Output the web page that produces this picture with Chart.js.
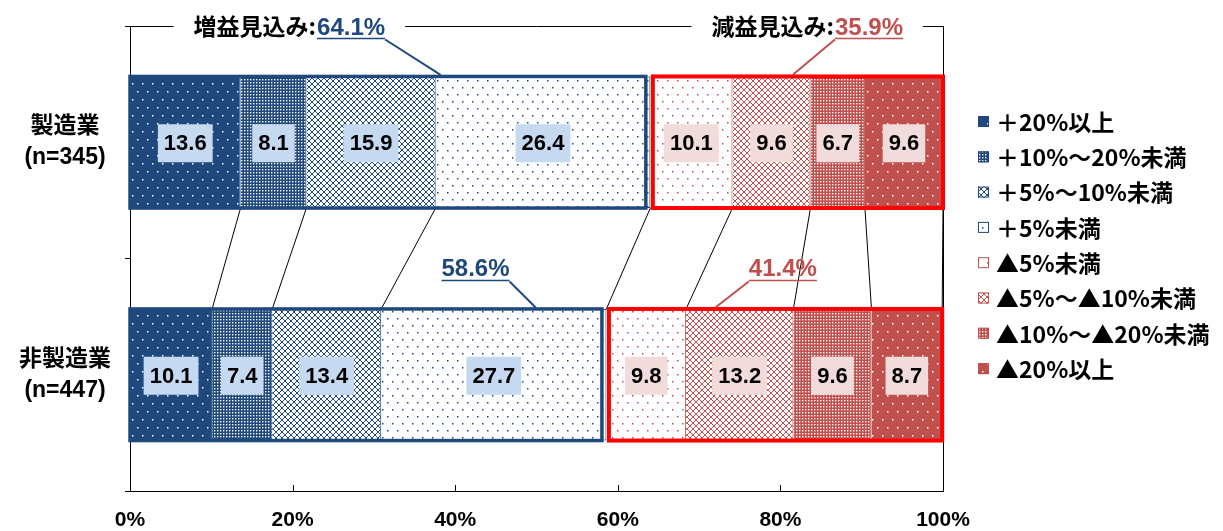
<!DOCTYPE html>
<html lang="ja">
<head>
<meta charset="utf-8">
<title>増益・減益見込み</title>
<script src="https://cdn.jsdelivr.net/npm/chart.js@4.4.1/dist/chart.umd.min.js"></script>
<style>
  html, body { margin: 0; padding: 0; background: #fff; }
  #wrap { width: 1223px; height: 531px; }
</style>
</head>
<body>
<div id="wrap"><canvas id="c" width="1223" height="531"></canvas></div>
<script>
// ── data ──────────────────────────────────────────────
const categories   = [['製造業', '(n=345)'], ['非製造業', '(n=447)']];
const seriesLabels = ['＋20%以上', '＋10%～20%未満', '＋5%～10%未満', '＋5%未満',
                      '▲5%未満', '▲5%～▲10%未満', '▲10%～▲20%未満', '▲20%以上'];
const plus20  = [13.6, 10.1];
const plus10  = [8.1, 7.4];
const plus5   = [15.9, 13.4];
const plus0   = [26.4, 27.7];
const minus0  = [10.1, 9.8];
const minus5  = [9.6, 13.2];
const minus10 = [6.7, 9.6];
const minus20 = [9.6, 8.7];
const increaseTotals = [64.1, 58.6];
const decreaseTotals = [35.9, 41.4];
const xTicks = [0, 20, 40, 60, 80, 100];

// ── styles ────────────────────────────────────────────
const BLUE = '#1F497D', RED = '#C0504D', FRAME_RED = '#FF0000';
const FONT = '"Liberation Sans", "Noto Sans CJK JP", sans-serif';
const JFONT = '"Noto Sans CJK JP", sans-serif';
const canvas = document.getElementById('c');
const ctx0 = canvas.getContext('2d');

function tile(w, h, paint) {
  const t = document.createElement('canvas');
  t.width = w; t.height = h;
  paint(t.getContext('2d'), w, h);
  return ctx0.createPattern(t, 'repeat');
}
const dotsOnColor = col => tile(10, 16, (g, w, h) => {
  g.fillStyle = col; g.fillRect(0, 0, w, h);
  g.fillStyle = '#fff'; g.fillRect(2, 3, 1.5, 1.5); g.fillRect(7, 11, 1.5, 1.5);
});
const dense = col => tile(3, 3, (g, w, h) => {
  g.fillStyle = col; g.fillRect(0, 0, w, h);
  g.fillStyle = '#fff'; g.fillRect(1, 1, 1.4, 1.4);
});
const diamond = col => tile(6, 6, (g, w, h) => {
  g.fillStyle = '#fff'; g.fillRect(0, 0, w, h);
  g.strokeStyle = col; g.lineWidth = 1;
  g.beginPath();
  g.moveTo(-1, -1); g.lineTo(7, 7);
  g.moveTo(7, -1); g.lineTo(-1, 7);
  g.stroke();
});
const dotsOnWhite = col => tile(10, 14, (g, w, h) => {
  g.fillStyle = '#fff'; g.fillRect(0, 0, w, h);
  g.fillStyle = col; g.fillRect(2, 3, 1.5, 1.5); g.fillRect(7, 10, 1.5, 1.5);
});

const seriesValues = [plus20, plus10, plus5, plus0, minus0, minus5, minus10, minus20];
const fills = [dotsOnColor(BLUE), dense(BLUE), diamond(BLUE), dotsOnWhite(BLUE),
               dotsOnWhite(RED), diamond(RED), dense(RED), dotsOnColor(RED)];

const datasets = seriesValues.map((vals, i) => ({
  label: seriesLabels[i],
  data: vals,
  backgroundColor: fills[i],
  borderColor: i < 4 ? BLUE : RED,
  borderWidth: 1,
  barPercentage: 0.566,
  categoryPercentage: 1
}));

// callouts: x positions in axis units (layout only)
const callouts = [
  { prefix: '増益見込み:', value: increaseTotals[0], color: BLUE, cx: 19.6, row: 'top', from: 'end',   target: 38.2, cat: 0 },
  { prefix: '減益見込み:', value: decreaseTotals[0], color: RED,  cx: 83.3, row: 'top', from: 'start', target: 81.5, cat: 0 },
  { prefix: '',            value: increaseTotals[1], color: BLUE, cx: 42.5, row: 'mid', from: 'end',   target: 49.9, cat: 1 },
  { prefix: '',            value: decreaseTotals[1], color: RED,  cx: 80.3, row: 'mid', from: 'start', target: 72.0, cat: 1 }
];

// ── plugins ───────────────────────────────────────────
const frame = {
  id: 'frame',
  beforeDatasetsDraw(chart) {
    const { ctx, chartArea: a, scales: { x } } = chart;
    ctx.save();
    ctx.strokeStyle = '#000'; ctx.lineWidth = 1;
    ctx.beginPath();
    const xr = Math.round(x.getPixelForValue(100)) + 0.5;
    ctx.moveTo(xr, a.top); ctx.lineTo(xr, a.bottom);
    x.ticks.forEach(t => {
      const px = Math.round(x.getPixelForValue(t.value)) + 0.5;
      ctx.moveTo(px, a.bottom); ctx.lineTo(px, a.bottom - 6);
    });
    ctx.stroke();
    ctx.restore();
  }
};

const decor = {
  id: 'decor',
  afterDatasetsDraw(chart) {
    const { ctx, chartArea: a, scales: { x } } = chart;
    const metas = chart.data.datasets.map((d, i) => chart.getDatasetMeta(i));
    const bar = (di, ci) => metas[di].data[ci];
    const nCat = chart.data.labels.length;

    // series lines between the two bars
    ctx.save();
    ctx.strokeStyle = '#000'; ctx.lineWidth = 1;
    for (let ci = 0; ci < nCat - 1; ci++) {
      ctx.beginPath();
      metas.forEach(m => {
        const p = m.data[ci], q = m.data[ci + 1];
        ctx.moveTo(p.x, p.y + p.height / 2);
        ctx.lineTo(q.x, q.y - q.height / 2);
      });
      ctx.stroke();
    }

    // group outlines
    for (let ci = 0; ci < nCat; ci++) {
      const b0 = bar(0, ci), b3 = bar(3, ci), b4 = bar(4, ci), b7 = bar(7, ci);
      const top = b0.y - b0.height / 2, h = b0.height;
      ctx.strokeStyle = BLUE; ctx.lineWidth = 3.5;
      ctx.strokeRect(b0.base, top, b3.x - 4.5 - b0.base, h);
      ctx.strokeStyle = FRAME_RED; ctx.lineWidth = 4;
      ctx.strokeRect(b4.base + 2.5, top, b7.x - b4.base - 2.5, h);
    }

    // value labels
    ctx.font = `bold 22px ${FONT}`;
    ctx.textAlign = 'center'; ctx.textBaseline = 'middle';
    metas.forEach((m, di) => {
      m.data.forEach((el, ci) => {
        const txt = chart.data.datasets[di].data[ci].toFixed(1);
        const cx = (el.x + el.base) / 2, cy = el.y + 1;
        const w = ctx.measureText(txt).width + 12, h = 38;
        ctx.fillStyle = di < 4 ? '#C5D9F1' : '#F2DCDB';
        ctx.fillRect(cx - w / 2, cy - h / 2, w, h);
        ctx.fillStyle = '#000';
        ctx.fillText(txt, cx, cy + 1);
      });
    });

    // top bracket
    const by = Math.round(a.top) + 0.5;
    const xr = Math.round(x.getPixelForValue(100)) + 0.5;
    ctx.strokeStyle = '#000'; ctx.lineWidth = 1;
    ctx.beginPath();
    ctx.moveTo(a.left, by); ctx.lineTo(xr, by);
    ctx.stroke();

    // callouts
    ctx.textAlign = 'left'; ctx.textBaseline = 'alphabetic';
    callouts.forEach(c => {
      const num = c.value.toFixed(1) + '%';
      ctx.font = `bold 23px ${JFONT}`;
      const pw = c.prefix ? ctx.measureText(c.prefix).width + 1 : 0;
      ctx.font = `bold 24px ${FONT}`;
      const nw = ctx.measureText(num).width;
      const cxp = x.getPixelForValue(c.cx);
      const sx = cxp - (pw + nw) / 2;
      const b = bar(0, c.cat);
      const barTop = b.y - b.height / 2 - 1.5;
      let base;
      if (c.row === 'top') {
        base = by + 8;
        ctx.fillStyle = '#fff';
        ctx.fillRect(sx - 20, by - 3, pw + nw + 40, 6);
      } else {
        base = barTop - 31;
      }
      ctx.fillStyle = '#000';
      ctx.font = `bold 23px ${JFONT}`;
      if (c.prefix) ctx.fillText(c.prefix, sx, base);
      ctx.font = `bold 24px ${FONT}`;
      ctx.fillStyle = c.color;
      ctx.fillText(num, sx + pw, base);
      const uy = base + 4;
      ctx.strokeStyle = c.color; ctx.lineWidth = 1.5;
      ctx.beginPath();
      ctx.moveTo(sx + pw, uy); ctx.lineTo(sx + pw + nw, uy);
      ctx.stroke();
      ctx.lineWidth = 2;
      ctx.beginPath();
      const fx = c.from === 'end' ? sx + pw + nw : sx + pw;
      ctx.moveTo(fx, uy + 1);
      ctx.lineTo(x.getPixelForValue(c.target), barTop);
      ctx.stroke();
    });
    ctx.restore();
  },
  afterDraw(chart) {
    // legend
    const { ctx, chartArea: a } = chart;
    const lx = a.right + 35, ly = a.top + 96, step = 35.3;
    ctx.save();
    ctx.font = `bold 23px ${JFONT}`;
    ctx.textAlign = 'left'; ctx.textBaseline = 'middle';
    chart.data.datasets.forEach((d, i) => {
      const y = ly + i * step;
      ctx.fillStyle = d.backgroundColor;
      ctx.fillRect(lx, y - 6, 11, 11);
      ctx.strokeStyle = d.borderColor; ctx.lineWidth = 1;
      ctx.strokeRect(lx + 0.5, y - 5.5, 10, 10);
      ctx.fillStyle = '#000';
      ctx.fillText(d.label, lx + 18, y);
    });
    ctx.restore();
  }
};

// ── chart ─────────────────────────────────────────────
new Chart(canvas, {
  type: 'bar',
  data: { labels: categories, datasets },
  options: {
    indexAxis: 'y',
    responsive: false,
    animation: false,
    layout: { padding: { top: 26, left: 5, right: 280, bottom: 0 } },
    plugins: { legend: { display: false }, tooltip: { enabled: false } },
    scales: {
      x: {
        stacked: true, min: 0, max: 100,
        afterBuildTicks: s => { s.ticks = xTicks.map(v => ({ value: v })); },
        afterFit: s => { s.paddingLeft = 0; s.paddingRight = 0; s.height = 40; },
        grid: { display: false, drawTicks: false },
        border: { display: true, color: '#000', width: 1 },
        ticks: { color: '#000', padding: 17, font: { family: FONT, size: 21, weight: 'bold' }, callback: v => v + '%' }
      },
      y: {
        stacked: true,
        afterFit: s => { s.paddingTop = 0; s.paddingBottom = 0; },
        grid: { display: true, drawOnChartArea: false, drawTicks: true, tickLength: 5, color: '#000' },
        border: { display: true, color: '#000', width: 1 },
        ticks: { color: '#000', crossAlign: 'center', padding: 14,
                 font: { family: FONT, size: 23, weight: 'bold', lineHeight: 1.35 } }
      }
    }
  },
  plugins: [frame, decor]
});
</script>
</body>
</html>
